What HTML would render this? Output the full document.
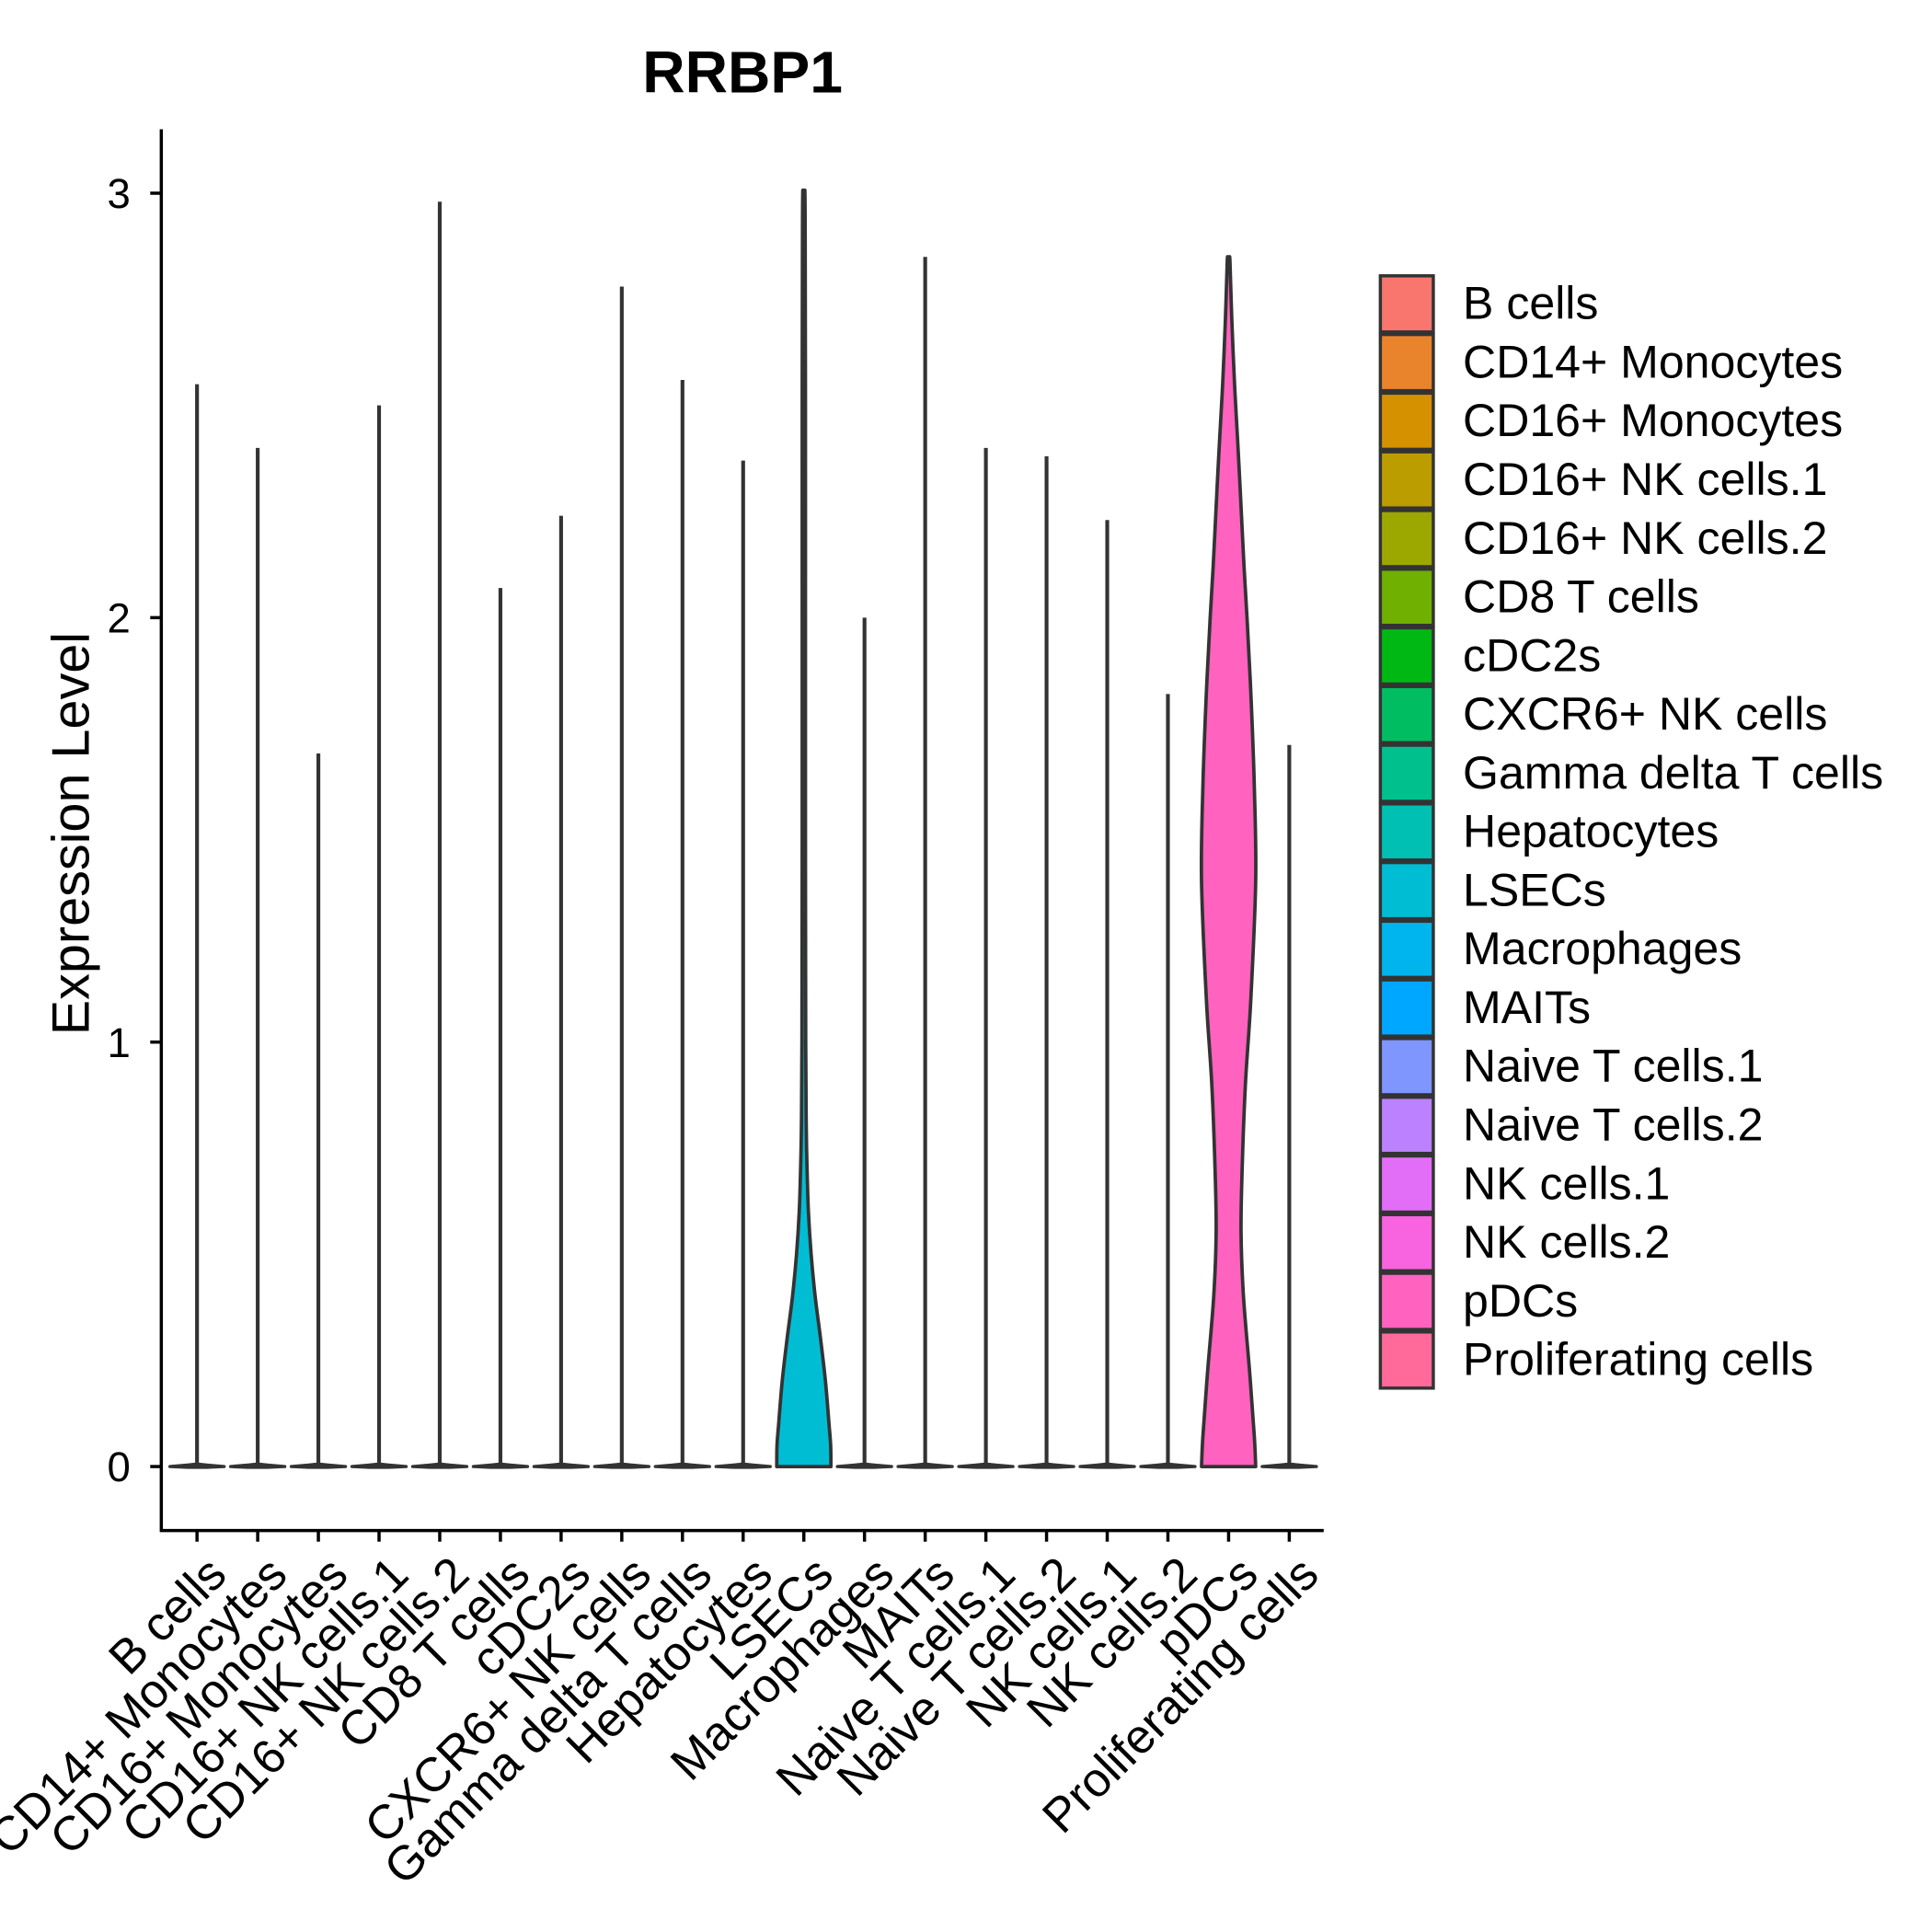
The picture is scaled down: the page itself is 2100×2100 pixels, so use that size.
<!DOCTYPE html>
<html><head><meta charset="utf-8"><style>
html,body{margin:0;padding:0;background:#fff;}
svg{display:block;font-family:"Liberation Sans",Arial,sans-serif;}
</style></head><body>
<svg id="chart" width="2100" height="2100" viewBox="0 0 1569 1569" xmlns="http://www.w3.org/2000/svg">
<rect width="1569" height="1569" fill="#fff"/>
<text x="603" y="75" font-size="48" font-weight="bold" text-anchor="middle">RRBP1</text>
<text transform="translate(72,677) rotate(-90)" font-size="43" text-anchor="middle">Expression Level</text>
<g id="marks"></g>
<line x1="131" y1="105" x2="131" y2="1244" stroke="#000" stroke-width="2.6"/>
<line x1="130" y1="1243" x2="1075" y2="1243" stroke="#000" stroke-width="2.6"/>
<g id="yaxis"></g><g id="xaxis"></g><g id="legend"></g>
</svg>
<script>
const categories = ["B cells","CD14+ Monocytes","CD16+ Monocytes","CD16+ NK cells.1","CD16+ NK cells.2","CD8 T cells","cDC2s","CXCR6+ NK cells","Gamma delta T cells","Hepatocytes","LSECs","Macrophages","MAITs","Naive T cells.1","Naive T cells.2","NK cells.1","NK cells.2","pDCs","Proliferating cells"];
const maxValues = [2.55,2.40,1.68,2.50,2.98,2.07,2.24,2.78,2.56,2.37,3.00,2.00,2.85,2.40,2.38,2.23,1.82,2.84,1.70];
const colors = ["#F8766D","#E9842C","#D69100","#BC9D00","#9CA700","#6FB000","#00B813","#00BD61","#00C08E","#00C0B4","#00BDD4","#00B5EE","#00A7FF","#7F96FF","#BC81FF","#E26EF7","#F863DF","#FF62BF","#FF6A9A"];
const yTicks = [0,1,2,3];
// density profiles: value levels and relative half-widths
const lsecsLevels = [0,0.05,0.1,0.2,0.3,0.4,0.5,0.6,0.7,0.8,1.0,1.5,2.0,2.5,2.9,3.0];
const lsecsWidths = [1,0.99,0.93,0.8,0.62,0.42,0.27,0.17,0.12,0.09,0.07,0.06,0.06,0.06,0.05,0.04];
const pdcsLevels = [0,0.07,0.22,0.4,0.55,0.7,0.9,1.1,1.38,1.6,1.81,2.0,2.12,2.3,2.41,2.55,2.7,2.84];
const pdcsWidths = [1,0.95,0.78,0.55,0.46,0.5,0.62,0.82,1.0,0.95,0.83,0.68,0.57,0.43,0.34,0.22,0.12,0.05];

const NS="http://www.w3.org/2000/svg";
const y = v => 1191 - v*344.7;
const x = i => 160 + i*49.28;
const HW = 22;
function mk(t,a,p){const e=document.createElementNS(NS,t);for(const k in a)e.setAttribute(k,a[k]);p.appendChild(e);return e;}
function smooth(pts){
  let d=`M${pts[0][0]},${pts[0][1]}`;
  for(let i=0;i<pts.length-1;i++){
    const p0=pts[Math.max(0,i-1)],p1=pts[i],p2=pts[i+1],p3=pts[Math.min(pts.length-1,i+2)];
    const c1=[p1[0]+(p2[0]-p0[0])/6,p1[1]+(p2[1]-p0[1])/6];
    const c2=[p2[0]-(p3[0]-p1[0])/6,p2[1]-(p3[1]-p1[1])/6];
    d+=` C${c1[0]},${c1[1]} ${c2[0]},${c2[1]} ${p2[0]},${p2[1]}`;
  }
  return d;
}
const marks=document.getElementById('marks');
categories.forEach((c,i)=>{
  const cx=x(i);
  let lv,wd;
  if(c==="LSECs"){lv=lsecsLevels;wd=lsecsWidths;}
  else if(c==="pDCs"){lv=pdcsLevels;wd=pdcsWidths;}
  if(lv){
    let r=[],l=[];
    for(let k=0;k<lv.length;k++)r.push([cx+wd[k]*HW,y(lv[k])]);
    r.push([cx+0.03*HW,y(maxValues[i])]);
    for(let k=0;k<lv.length;k++)l.push([cx-wd[k]*HW,y(lv[k])]);
    l.push([cx-0.03*HW,y(maxValues[i])]);
    const rl=l.slice().reverse();
    const d=smooth(r)+` L${rl[0][0]},${rl[0][1]} `+smooth(rl).replace(/^M[^C]*/,'')+' Z';
    const p=mk('path',{d:d,fill:colors[i],stroke:'#333','stroke-width':2.8,'stroke-linejoin':'round'},marks);
    
    
  } else {
    const g=mk('g',{},marks);
    
    
    mk('polygon',{points:`${cx-HW},${y(0)} ${cx-8},${y(0)-1.2} ${cx},${y(0)-2} ${cx+8},${y(0)-1.2} ${cx+HW},${y(0)} ${cx+8},${y(0)+0.6} ${cx-8},${y(0)+0.6}`,fill:colors[i],stroke:'#333','stroke-width':2.6,'stroke-linejoin':'round'},g);
    mk('line',{x1:cx,y1:y(0),x2:cx,y2:y(maxValues[i]),stroke:'#333','stroke-width':3.1},g);
  }
});
const ya=document.getElementById('yaxis');
yTicks.forEach(v=>{
  const l=mk('line',{x1:122,x2:131,y1:y(v),y2:y(v),stroke:'#000','stroke-width':2.6},ya);
  
  
  const t=mk('text',{x:106,y:y(v)+12,'font-size':34,'text-anchor':'end',fill:'#000'},ya);
  t.textContent=v;
  
  
});
const xa=document.getElementById('xaxis');
categories.forEach((c,i)=>{
  const cx=x(i);
  const l=mk('line',{x1:cx,x2:cx,y1:1243,y2:1252,stroke:'#000','stroke-width':2.6},xa);
  
  
  const t=mk('text',{transform:`translate(${cx+6},${1261}) rotate(-45)`,'font-size':39,'text-anchor':'end',dy:'0.72em',fill:'#000'},xa);
  t.textContent=c;
  
  
});
const lg=document.getElementById('legend');
categories.forEach((c,i)=>{
  const top=223+i*47.65;
  const g=mk('g',{},lg);
  
  
  mk('rect',{x:1121,y:top+1,width:43,height:45.6,fill:colors[i],stroke:'#333','stroke-width':2.6},g);
  const t=mk('text',{x:1188,y:top+36,'font-size':37.4,fill:'#000'},g);
  t.textContent=c;
});
</script>
</body></html>
